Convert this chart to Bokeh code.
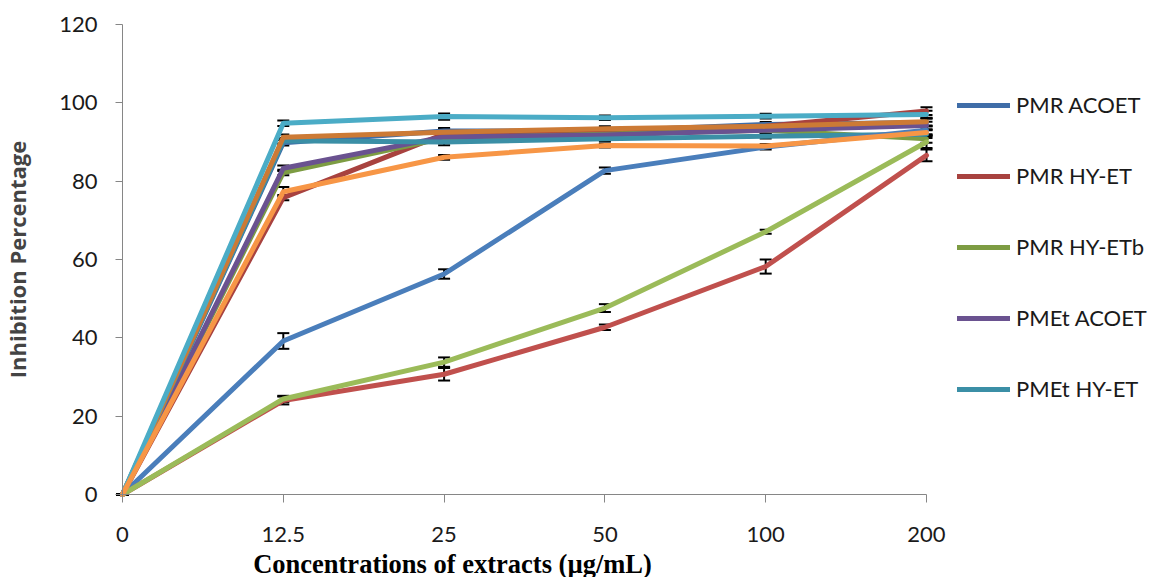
from bokeh.plotting import figure
from bokeh.models import (Range1d, Legend, LegendItem, Whisker, TeeHead,
                          ColumnDataSource, Label, FixedTicker)
from bokeh.embed import file_html
from bokeh.resources import INLINE

categories = ["0", "12.5", "25", "50", "100", "200"]

# Upper-cluster series (shown in legend)
pmr_acoet = [0, 89.8, 92.8, 92.8, 94.5, 95.0]
pmr_hyet = [0, 75.8, 92.0, 93.0, 94.0, 97.9]
pmr_hyetb = [0, 82.2, 91.0, 92.0, 93.0, 90.8]
pmet_acoet = [0, 83.3, 91.3, 91.8, 93.0, 94.2]
pmet_hyet = [0, 90.3, 90.0, 90.8, 91.5, 92.0]
# Further series (legend entries cut off in the reference)
series_6 = [0, 91.2, 92.5, 93.4, 94.0, 95.2]
series_7 = [0, 39.2, 56.3, 82.7, 88.7, 93.0]
series_8 = [0, 24.0, 30.7, 42.7, 58.2, 86.6]
series_9 = [0, 24.4, 33.8, 47.6, 67.1, 90.0]
series_10 = [0, 94.8, 96.5, 96.2, 96.6, 97.0]
series_11 = [0, 77.3, 86.1, 89.1, 89.0, 92.4]

err_small = [0, 0.7, 0.8, 0.6, 0.6, 1.0]
err_7 = [0, 2.0, 1.2, 0.8, 0.6, 1.0]
err_8 = [0, 1.0, 1.6, 0.7, 1.8, 1.5]
err_9 = [0, 0.8, 1.2, 1.0, 0.5, 1.5]
err_11 = [0, 1.2, 0.6, 0.5, 0.5, 0.8]

series = [
    ("PMR ACOET", pmr_acoet, "#3F6DA8", err_small, True),
    ("PMR HY-ET", pmr_hyet, "#A8423F", err_small, True),
    ("PMR HY-ETb", pmr_hyetb, "#7D9C43", err_small, True),
    ("PMEt ACOET", pmet_acoet, "#6A5290", err_small, True),
    ("PMEt HY-ET", pmet_hyet, "#3B8FA6", err_small, True),
    ("Series 6", series_6, "#CC7A35", err_small, False),
    ("Series 7", series_7, "#4A7EBB", err_7, False),
    ("Series 8", series_8, "#C0504D", err_8, False),
    ("Series 9", series_9, "#9BBB59", err_9, False),
    ("Series 10", series_10, "#4BACC6", err_small, False),
    ("Series 11", series_11, "#F79646", err_11, False),
]

xs = list(range(len(categories)))

# The frame covers the whole canvas; both axes are bounded to the data region
# and fixed at the origin, so labels, legend and title all sit inside it.
p = figure(width=1153, height=577, output_backend="svg", toolbar_location=None,
           x_range=Range1d(-0.7587, 6.4117), y_range=Range1d(-21.19, 126.13),
           min_border_left=0, min_border_right=0,
           min_border_top=0, min_border_bottom=0)
p.outline_line_color = None
p.xgrid.visible = False
p.ygrid.visible = False
p.background_fill_color = "white"

axis_col = "#868686"
for ax in (p.xaxis[0], p.yaxis[0]):
    ax.axis_line_color = axis_col
    ax.major_tick_line_color = axis_col
    ax.minor_tick_line_color = None
    ax.major_tick_in = 0
    ax.major_label_text_font = "Lato"
    ax.major_label_text_font_size = "22px"
    ax.major_label_text_color = "#1a1a1a"

p.xaxis.ticker = FixedTicker(ticks=xs)
p.xaxis.bounds = (0, 5)
p.xaxis.fixed_location = 0
p.xaxis.major_label_overrides = {i: c for i, c in enumerate(categories)}
p.xaxis.major_tick_out = 8
p.xaxis.major_label_standoff = 24

p.yaxis.ticker = FixedTicker(ticks=[0, 20, 40, 60, 80, 100, 120])
p.yaxis.bounds = (0, 120)
p.yaxis.fixed_location = 0
p.yaxis.major_tick_out = 7
p.yaxis.major_label_standoff = 18
p.yaxis.axis_label = "Inhibition Percentage"
p.yaxis.axis_label_text_font = "Open Sans"
p.yaxis.axis_label_text_font_style = "bold"
p.yaxis.axis_label_text_font_size = "22px"
p.yaxis.axis_label_standoff = 24

legend_items = []
for name, vals, col, err, in_leg in series:
    src = ColumnDataSource(dict(x=xs, y=vals,
                                upper=[v + e for v, e in zip(vals, err)],
                                lower=[v - e for v, e in zip(vals, err)]))
    r = p.line("x", "y", source=src, line_color=col, line_width=5,
               line_join="round", line_cap="round")
    w = Whisker(source=src, base="x", upper="upper", lower="lower",
                line_color="black", line_width=2,
                upper_head=TeeHead(size=12, line_width=2, line_color="black"),
                lower_head=TeeHead(size=12, line_width=2, line_color="black"))
    p.add_layout(w)
    if in_leg:
        legend_items.append(LegendItem(label=name, renderers=[r]))

legend = Legend(items=legend_items, location=(957, 175))
legend.glyph_width = 53
legend.glyph_height = 20
legend.label_height = 20
legend.spacing = 44
legend.padding = 0
legend.margin = 0
legend.border_line_alpha = 0
legend.background_fill_alpha = 0
legend.label_standoff = 6
legend.label_text_font = "Lato"
legend.label_text_font_size = "22px"
legend.label_text_color = "#1a1a1a"
p.add_layout(legend)

title = Label(x=452, y=14, x_units="screen", y_units="screen",
              text="Concentrations of extracts (µg/mL)",
              text_font="Liberation Serif", text_font_style="bold",
              text_font_size="26.5px", text_align="center",
              text_baseline="middle", text_color="black")
p.add_layout(title)

open("out.html", "w").write(file_html(p, INLINE))
